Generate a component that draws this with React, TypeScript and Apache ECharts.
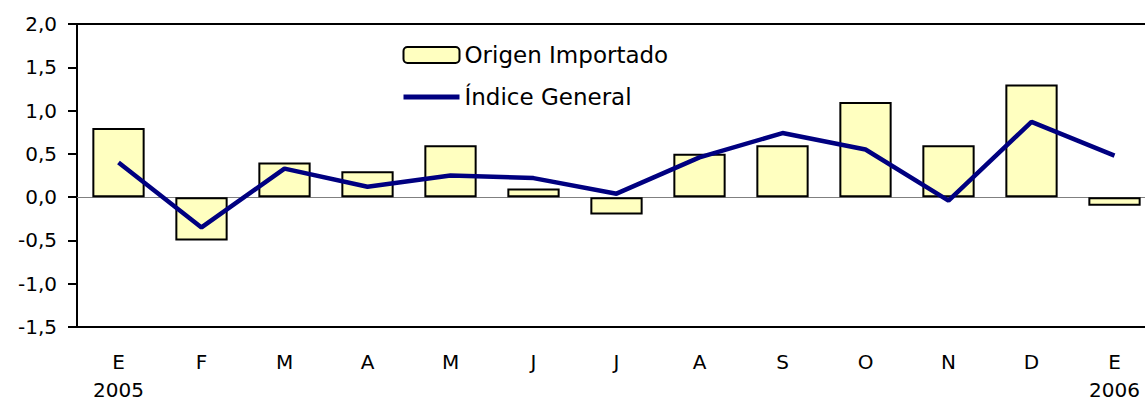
import React, { useEffect, useRef } from "react";
import * as echarts from "echarts";

const categories = ["E\n2005", "F", "M", "A", "M", "J", "J", "A", "S", "O", "N", "D", "E\n2006"];
const origenImportado = [0.8, -0.5, 0.4, 0.3, 0.6, 0.1, -0.2, 0.5, 0.6, 1.1, 0.6, 1.3, -0.1];
const indiceGeneral = [0.4, -0.35, 0.33, 0.12, 0.25, 0.22, 0.04, 0.46, 0.74, 0.55, -0.04, 0.87, 0.48];
const seriesNames = ["Origen Importado", "Índice General"];

const FONT = "DejaVu Sans";

export default function App() {
  const ref = useRef<HTMLDivElement>(null);
  useEffect(() => {
    if (!ref.current) return;
    const chart = echarts.init(ref.current, null, { renderer: "svg" });
    chart.setOption({
      animation: false,
      backgroundColor: "#ffffff",
      grid: {
        left: 77,
        top: 24,
        width: 1079,
        height: 303,
        show: true,
        borderColor: "#000",
        borderWidth: 2,
        backgroundColor: "transparent",
        outerBoundsMode: "none",
        containLabel: false,
      },
      legend: {
        orient: "vertical",
        left: 401,
        top: 43,
        padding: 0,
        itemGap: 18,
        itemWidth: 56,
        itemHeight: 16,
        textStyle: { fontFamily: FONT, fontSize: 23, color: "#000", lineHeight: 24 },
        data: [
          { name: seriesNames[0], itemStyle: { color: "#FFFFC0", borderColor: "#000", borderWidth: 2 } },
          {
            name: seriesNames[1],
            itemStyle: { opacity: 0 },
            lineStyle: { color: "#000080", width: 5, opacity: 1 },
          },
        ],
      },
      xAxis: {
        type: "category",
        data: categories,
        axisLine: { show: true, onZero: false, lineStyle: { color: "#000", width: 2 } },
        axisTick: { show: false },
        axisLabel: {
          fontFamily: FONT,
          fontSize: 20,
          color: "#000",
          lineHeight: 28,
          margin: 21,
          interval: 0,
        },
      },
      yAxis: {
        type: "value",
        min: -1.5,
        max: 2,
        interval: 0.5,
        axisLine: { show: true, lineStyle: { color: "#000", width: 2 } },
        axisTick: { show: true, length: 9, lineStyle: { color: "#000", width: 2 } },
        splitLine: { show: false },
        axisLabel: {
          fontFamily: FONT,
          fontSize: 20,
          color: "#000",
          margin: 20,
          formatter: (v: number) => v.toFixed(1).replace(".", ","),
        },
      },
      series: [
        {
          name: seriesNames[0],
          type: "bar",
          data: origenImportado,
          barWidth: "63%",
          itemStyle: { color: "#FFFFC0", borderColor: "#000", borderWidth: 2 },
          markLine: {
            silent: true,
            symbol: "none",
            label: { show: false },
            lineStyle: { color: "#808080", width: 1, type: "solid" },
            data: [{ yAxis: 0 }],
            z: 1,
          },
          z: 2,
        },
        {
          name: seriesNames[1],
          type: "line",
          data: indiceGeneral,
          symbol: "none",
          lineStyle: { color: "#000080", width: 4.5 },
          itemStyle: { color: "#000080" },
          z: 3,
        },
      ],
    });
    return () => chart.dispose();
  }, []);
  return (
    <div
      ref={ref}
      style={{ position: "absolute", left: 0, top: 0, width: 1145, height: 401 }}
    />
  );
}
